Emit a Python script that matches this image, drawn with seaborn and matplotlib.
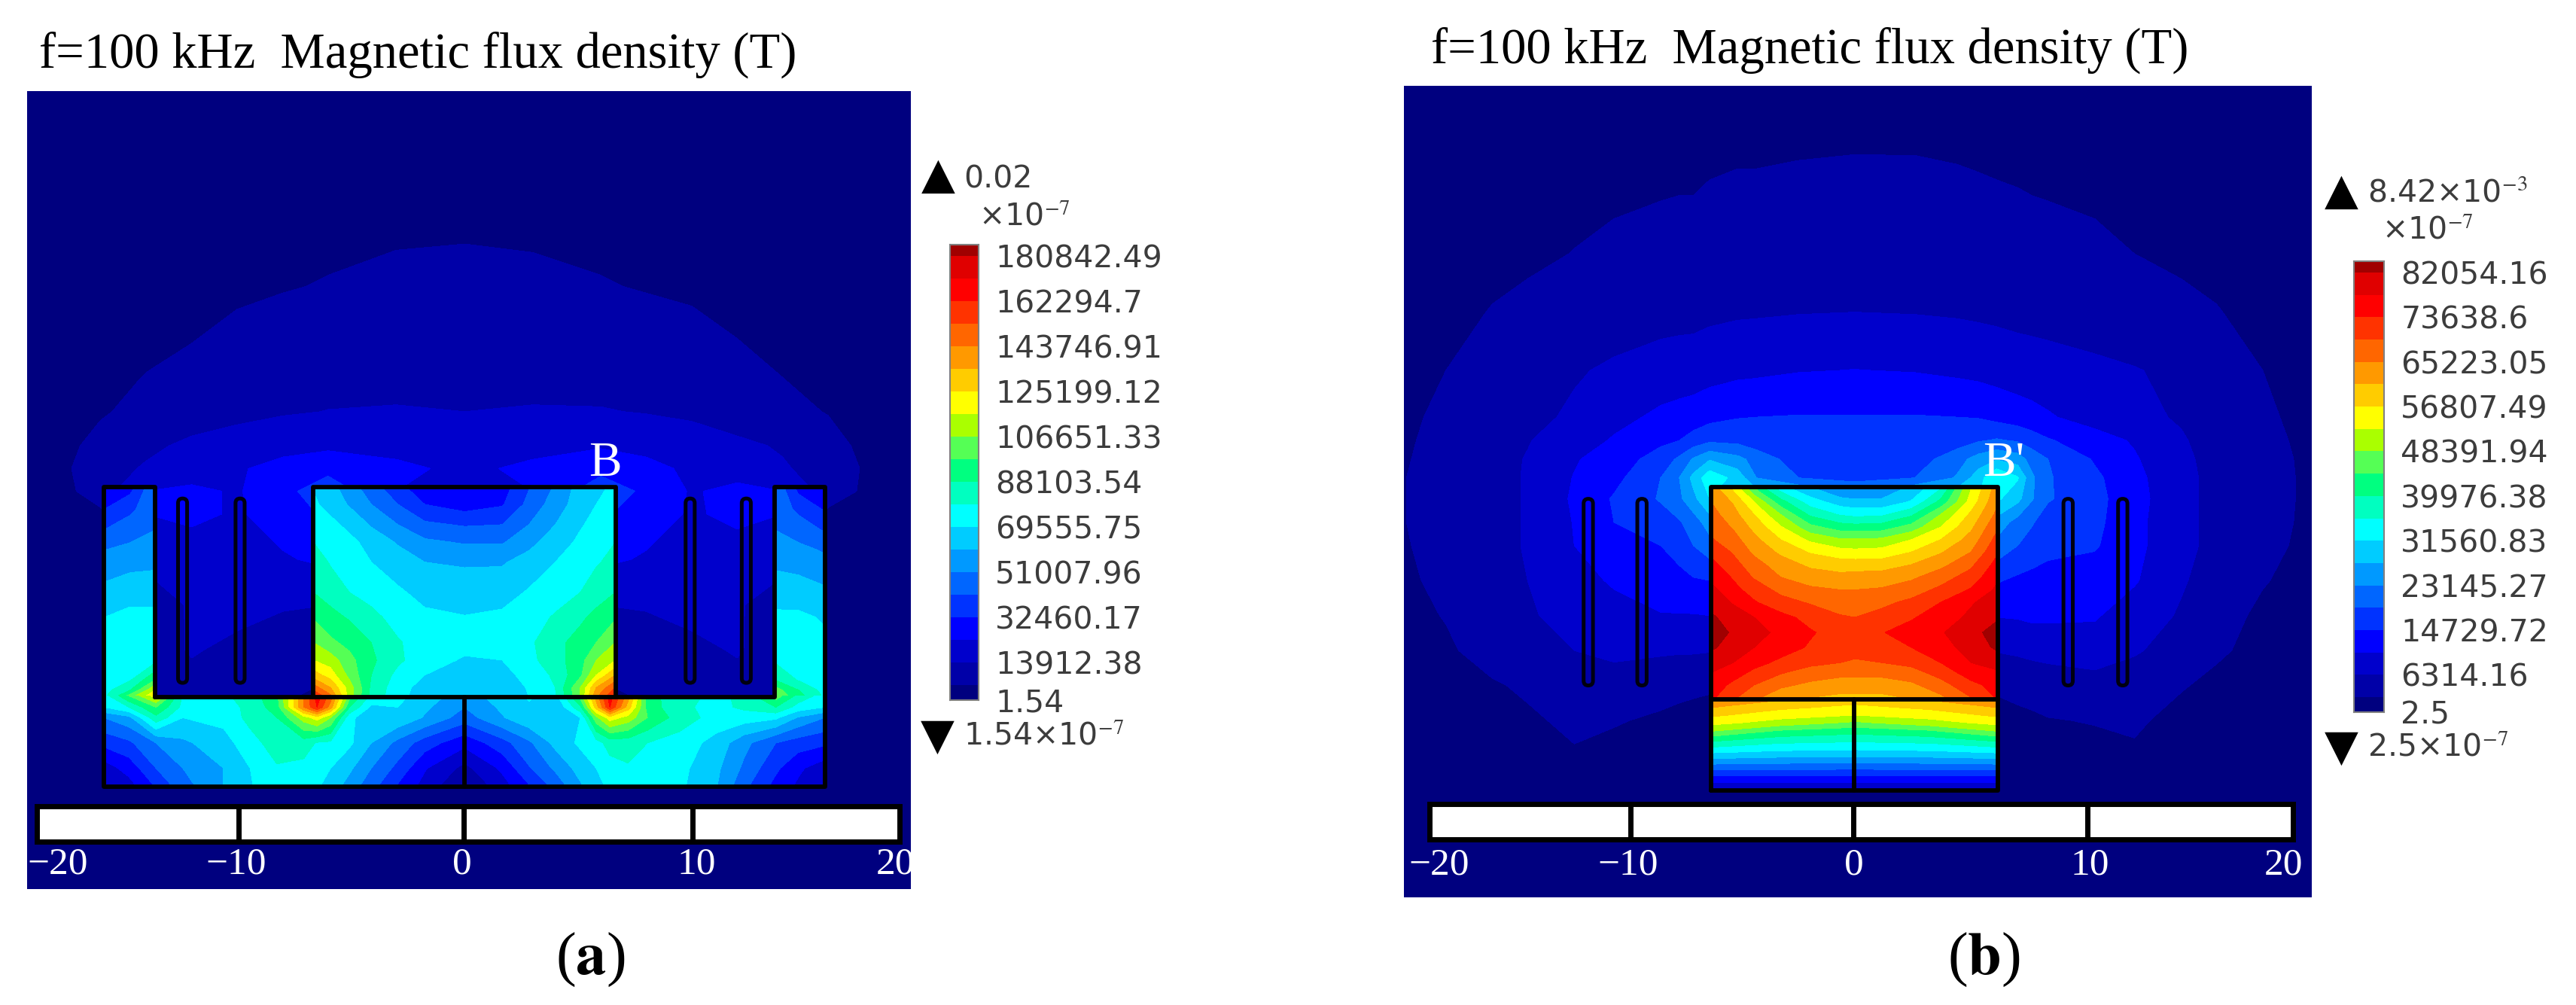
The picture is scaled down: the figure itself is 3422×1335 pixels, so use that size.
import numpy as np
import matplotlib
matplotlib.use('Agg')
import matplotlib.pyplot as plt
from matplotlib.colors import ListedColormap
from matplotlib.patches import Rectangle, FancyBboxPatch
import seaborn as sns

W, H = 3423, 1335

# цвета полос шкалы, снизу вверх; значение k попадает в полосу [k, k+1)
band_colors = ['#00007f', '#0000a8', '#0000cc', '#0000ff', '#0033ff', '#0066ff', '#0099ff',
               '#00ccff', '#00ffff', '#00ffc0', '#00ff80', '#55ff55', '#aaff00', '#ffff00',
               '#ffcc00', '#ff9900', '#ff6600', '#ff3300', '#ff0000', '#e00000', '#a00000']
band_levels = [-1, 1, 2, 3, 4, 5, 6, 7, 8, 9, 10, 11, 12, 13, 14, 15, 16, 17, 18, 19, 20, 21]

ticks_a = ['180842.49', '162294.7', '143746.91', '125199.12', '106651.33', '88103.54',
           '69555.75', '51007.96', '32460.17', '13912.38', '1.54']
ticks_b = ['82054.16', '73638.6', '65223.05', '56807.49', '48391.94', '39976.38',
           '31560.83', '23145.27', '14729.72', '6314.16', '2.5']

# (a) поле вокруг сердечника
bg_a_x = [-19.3, -17.5, -16, -14, -12, -10, -8, -6, -3, 0, 3, 6, 8, 10, 12, 14, 16, 17.5, 19.7]
bg_a_y = [30.7, 24, 22, 20, 18, 16.5, 15, 14, 13, 12, 10, 8, 6, 4, 2, 0, -4.6]
bg_a = [
    [.4, .4, .4, .4, .4, .4, .4, .4, .4, .4, .4, .4, .4, .4, .4, .4, .4, .4, .4],
    [.4, .4, .4, .5, .6, .7, .8, .85, .95, .98, .95, .85, .8, .7, .6, .5, .4, .4, .4],
    [.4, .4, .5, .6, .7, .8, .95, 1.05, 1.2, 1.3, 1.15, 1.05, .95, .85, .7, .6, .5, .4, .4],
    [.4, .4, .5, .6, .9, 1.2, 1.3, 1.4, 1.5, 1.6, 1.5, 1.4, 1.3, 1.2, .95, .7, .5, .4, .4],
    [.4, .5, .6, 1.05, 1.3, 1.5, 1.6, 1.7, 1.8, 1.85, 1.8, 1.7, 1.6, 1.5, 1.3, 1.0, .7, .5, .4],
    [.4, .5, .9, 1.3, 1.5, 1.75, 1.9, 2.02, 2.05, 2.0, 2.05, 2.05, 1.95, 1.8, 1.5, 1.3, .95, .5, .4],
    [.5, .8, 1.3, 1.8, 2.2, 2.4, 2.7, 2.8, 2.7, 2.6, 2.7, 2.9, 2.7, 2.5, 2.2, 1.9, 1.4, .8, .5],
    [.5, .9, 1.6, 2.1, 2.5, 2.9, 3.3, 3.7, 3.2, 2.8, 3.2, 3.7, 3.3, 2.8, 2.5, 2.1, 1.6, .95, .5],
    [.5, .8, 1.5, 3.0, 3.2, 2.9, 3.7, 4.6, 3, 3, 3, 4.6, 3.8, 2.9, 3.3, 3.0, 1.5, .9, .5],
    [.4, .6, .8, 3.0, 3.2, 2.9, 3.4, 4.2, 3, 3, 3, 4.2, 3.4, 2.9, 3.2, 3.0, .8, .6, .4],
    [.4, .4, .6, 2.2, 2.5, 2.5, 2.9, 3.2, 3, 3, 3, 3.2, 2.9, 2.5, 2.6, 2.3, .6, .4, .4],
    [.4, .4, .5, 1.5, 2.1, 2.4, 2.1, 2.0, 2, 2, 2, 2.0, 2.1, 2.4, 2.1, 1.5, .5, .4, .4],
    [.4, .4, .5, 1.4, 2.1, 1.7, 1.4, 1.4, 1.4, 1.4, 1.4, 1.4, 1.4, 1.7, 2.1, 1.4, .5, .4, .4],
    [.4, .4, .4, 1.3, 1.5, 1.2, 1.1, .8, .8, .8, .8, .8, 1.1, 1.2, 1.5, 1.3, .4, .4, .4],
    [.4, .4, .4, .4, .4, .4, .4, .4, .4, .4, .4, .4, .4, .4, .4, .4, .4, .4, .4],
    [.4, .4, .4, .4, .4, .4, .4, .4, .4, .4, .4, .4, .4, .4, .4, .4, .4, .4, .4],
    [.4, .4, .4, .4, .4, .4, .4, .4, .4, .4, .4, .4, .4, .4, .4, .4, .4, .4, .4],
]

# (a) ноги сердечника
leg_y = [13.2, 12.2, 11.3, 10.4, 9, 7.45, 5.45, 4.7, 4.25, 3.9]
leg_l_x = [-15.85, -14.7, -13.6]
leg_l = [[3.2, 3.6, 5.9], [4.0, 4.8, 5.7], [5.0, 5.5, 6.0], [6.0, 6.3, 6.5], [7.0, 7.3, 7.3],
         [8.0, 8.3, 8.3], [8.4, 8.7, 9.0], [8.5, 8.9, 11], [8.6, 10, 13], [8.9, 12, 14]]
leg_r_x = [13.65, 14.7, 15.85]
leg_r = [[5.9, 3.6, 3.2], [5.6, 4.8, 3.9], [6.0, 5.5, 4.9], [6.5, 6.3, 5.9], [7.3, 7.2, 6.9],
         [8.2, 8.2, 7.9], [9, 8.7, 8.4], [10, 8.9, 8.5], [11.5, 10, 8.6], [12, 10.5, 8.9]]

# (a) основание
base_a_x = [-15.85, -14.76, -13.57, -12.39, -10.6, -9.43, -8.25, -7.07, -6.48, -5.89, -5.06, -4.1,
            -2.93, -1.75, 0, 1.66, 2.84, 4, 5.1, 5.8, 6.4, 7.2, 8.05, 9.46, 11.1, 12.3, 13.7, 14.67, 15.85]
base_a_y = [4.0, 3.5, 3.04, 1.93, .82, -.05]
base_a = [
    [8.5, 11, 13.5, 8.9, 8.8, 9.5, 10.8, 16, 18.5, 16.5, 11.5, 8.7, 8.3, 7.5, 6.5,
     7.5, 8.1, 7.6, 11.5, 15.5, 18.5, 15.5, 10.5, 9.3, 8.8, 9.2, 11.5, 9.7, 8.5],
    [8, 9, 11, 8.7, 8.5, 9.3, 10.5, 16, 18, 15.5, 10, 7.8, 8, 7.2, 6,
     7.2, 7.9, 7, 9.8, 14.5, 18, 14.5, 10.6, 9.2, 8.7, 9.2, 10, 8.6, 8],
    [6, 6.7, 9.7, 8, 8.3, 9.3, 10, 12.5, 13.5, 12, 8.3, 7.2, 7.8, 6.9, 5.5,
     6.9, 7.8, 7.3, 8, 11.7, 13.5, 12.6, 11, 9.5, 8.6, 8.5, 8.2, 6.9, 6],
    [4.3, 4.8, 6, 6.8, 7.6, 8.6, 9.5, 9.5, 8.9, 8.8, 8.2, 7, 5.7, 4.5, 3.3,
     4.6, 5.8, 7.3, 8.2, 8.6, 9.4, 9.4, 9, 8.6, 7.6, 6.3, 5, 4.5, 4.2],
    [2.5, 3.4, 5, 6, 7, 8, 8.9, 8.7, 8.3, 8, 7.2, 6, 4.7, 3.1, 1.7,
     3.2, 4.9, 6.2, 7.4, 8, 8.6, 8.9, 8.8, 8.3, 7.2, 5.8, 4.2, 3.2, 2.4],
    [1.9, 2.5, 4, 5.5, 7, 7.9, 8.7, 8.5, 8.1, 7.5, 6.5, 5.3, 3.8, 2.6, .8,
     2.5, 3.8, 5.2, 6.8, 7.6, 8.2, 8.6, 8.7, 8.2, 7, 5.2, 3.6, 2.8, 1.8],
]

# (a) центральный блок
block_a_x = [-6.65, -5.89, -5.06, -4.1, -2.93, -1.75, 0, 1.66, 2.84, 4, 5.1, 5.8, 6.65]
block_a_y = [13.25, 12.42, 11.53, 10.76, 9.88, 8.55, 7.45, 6.35, 5.57, 4.91, 4.36, 3.9]
block_a = [
    [7.9, 7.3, 6.4, 5.4, 4.2, 3.4, 3.2, 3.5, 4.9, 6.1, 7.4, 7.7, 8.2],
    [8.2, 7.6, 6.9, 6, 5, 4, 3.5, 3.9, 5.3, 6.5, 7.5, 8, 8.5],
    [8.7, 8.3, 7.7, 6.9, 6, 5.2, 4.9, 5, 6, 7, 7.9, 8.3, 8.7],
    [9, 8.6, 8.3, 7.6, 6.9, 6.2, 5.9, 5.9, 6.7, 7.5, 8.2, 8.6, 9],
    [9.6, 8.9, 8.5, 8, 7.5, 7, 6.9, 6.9, 7.4, 8, 8.6, 8.9, 9.3],
    [10, 9.6, 9, 8.6, 8.15, 7.7, 7.45, 7.6, 8.1, 8.6, 9, 9.5, 10],
    [10.9, 10.3, 9.9, 9.3, 8.6, 8.2, 8.05, 8.2, 8.6, 9.1, 9.8, 10.3, 10.9],
    [12, 11.2, 10.7, 10, 9.1, 8.5, 8.3, 8.4, 8.8, 9.7, 10.4, 11, 12],
    [13, 12.5, 11.3, 10.2, 9.2, 8.4, 7.9, 8, 8.7, 9.6, 10.6, 12, 13],
    [14.5, 13.5, 11.7, 10, 8.7, 8, 7.5, 7.7, 8.3, 9.2, 10.8, 13, 15],
    [16.5, 15, 12.5, 9.8, 8.4, 7.6, 7.2, 7.3, 8.1, 9, 12, 15, 17],
    [18.5, 16.5, 12.5, 9.7, 8.3, 7.5, 7.1, 7.2, 8, 8.9, 12, 16, 18.5],
]

# (b) поле вокруг сердечника
bg_b_x = [-19.4, -17.5, -15.5, -14, -12, -10.3, -8.3, -7.5, -6.9, -6.2, -5, -4.2, -2.4, 0,
          2.6, 4.4, 5.3, 6.1, 7, 7.6, 8.3, 10.3, 12, 14, 15.5, 17.5, 19.7]
bg_b_y = [30.3, 27.5, 25.5, 23, 20.5, 18, 16, 15, 14.2, 13.4, 12.5, 11.5, 10.5, 9, 7.5, 6, 4.5, 3, 1.5, -1, -4.7]
bg_b = [
    [.3, .3, .3, .3, .3, .3, .3, .3, .3, .3, .3, .3, .3, .3, .3, .3, .3, .3, .3, .3, .3, .3, .3, .3, .3, .3, .3],
    [.3, .3, .3, .4, .5, .6, .7, .7, .75, .8, .85, .85, .9, .95, .95, .9, .85, .8, .75, .7, .7, .6, .5, .4, .3, .3, .3],
    [.3, .4, .5, .6, .8, .9, .97, 1.0, 1.0, 1.1, 1.2, 1.2, 1.3, 1.35, 1.3, 1.2, 1.15, 1.1, 1.05, 1.0, .97, .9, .8, .6, .5, .4, .3],
    [.3, .5, .7, .85, 1.02, 1.15, 1.28, 1.3, 1.35, 1.4, 1.45, 1.45, 1.5, 1.55, 1.5, 1.45, 1.42, 1.4, 1.35, 1.3, 1.28, 1.15, 1.0, .85, .7, .5, .3],
    [.4, .7, 1.05, 1.2, 1.35, 1.5, 1.65, 1.7, 1.7, 1.8, 1.88, 1.9, 1.96, 2.0, 1.96, 1.9, 1.85, 1.8, 1.72, 1.68, 1.62, 1.5, 1.35, 1.2, 1.05, .7, .4],
    [.5, 1.0, 1.2, 1.45, 1.9, 2.15, 2.4, 2.45, 2.5, 2.6, 2.75, 2.8, 2.95, 3.02, 2.95, 2.8, 2.7, 2.6, 2.5, 2.45, 2.4, 2.2, 2.05, 1.8, 1.4, 1.0, .5],
    [.8, 1.2, 1.5, 1.75, 2.15, 2.7, 3.2, 3.35, 3.45, 3.7, 3.95, 4.0, 4.05, 4.05, 4.05, 4.0, 3.95, 3.7, 3.45, 3.3, 3.1, 2.6, 2.25, 1.9, 1.5, 1.15, .7],
    [.85, 1.3, 1.6, 1.95, 2.5, 3.1, 3.8, 4.0, 4.4, 4.8, 4.7, 4.4, 4.15, 4.1, 4.15, 4.5, 4.9, 5.1, 4.9, 4.5, 4.1, 3.4, 2.9, 2.1, 1.6, 1.25, .75],
    [.9, 1.35, 1.7, 2.05, 2.9, 3.5, 4.4, 5.2, 6.1, 6.9, 6.3, 5.6, 4.5, 4.2, 4.5, 5.6, 6.4, 6.9, 6.5, 5.6, 5, 3.9, 3.1, 2.2, 1.7, 1.3, .8],
    [.95, 1.4, 1.8, 2.05, 3.05, 3.7, 5.0, 6.0, 7.3, 8.7, 7.6, 6.0, 5.0, 4.3, 5.0, 6.1, 7.5, 9, 8.1, 6.2, 5.1, 4.2, 3.3, 2.2, 1.8, 1.35, .8],
    [.95, 1.4, 1.8, 2.05, 3.15, 4.1, 5.1, 5.8, 6.7, 8.0, 8, 8, 8, 8, 8, 8, 8, 8.2, 7.3, 6.1, 5.1, 4.3, 3.4, 2.2, 1.8, 1.35, .8],
    [.95, 1.4, 1.8, 2.05, 3.05, 4.0, 4.5, 4.9, 5.5, 6.5, 6, 6, 6, 6, 6, 6, 6, 6.6, 5.6, 5.1, 4.5, 4.25, 3.3, 2.2, 1.8, 1.3, .8],
    [.9, 1.35, 1.8, 2.05, 3.0, 3.5, 4.0, 4.4, 5.0, 5.6, 5, 5, 5, 5, 5, 5, 5, 5.7, 5.0, 4.6, 4.3, 4.1, 3.3, 2.2, 1.8, 1.25, .75],
    [.8, 1.25, 1.75, 2.0, 2.7, 3.1, 3.5, 3.7, 3.9, 4.0, 4, 4, 4, 4, 4, 4, 4, 4.1, 3.8, 3.7, 3.6, 3.5, 3.1, 2.1, 1.6, 1.05, .7],
    [.7, 1.05, 1.6, 1.9, 2.3, 2.7, 2.95, 2.95, 2.95, 3.0, 3, 3, 3, 3, 3, 3, 3, 3.05, 3.1, 3.2, 3.2, 3.1, 2.5, 1.9, 1.3, .85, .6],
    [.6, .85, 1.4, 1.7, 2.0, 2.2, 2.15, 2.1, 2.1, 2.05, 2, 2, 2, 2, 2, 2, 2, 2.05, 2.15, 2.25, 2.3, 2.5, 2.1, 1.6, 1.1, .8, .5],
    [.5, .7, .9, 1.15, 1.7, 1.6, 1.25, 1.2, 1.15, 1.1, 1, 1, 1, 1, 1, 1, 1, 1.1, 1.25, 1.35, 1.5, 1.6, 1.5, 1.05, .85, .65, .5],
    [.4, .5, .6, .85, 1.2, 1.05, .9, .8, .75, .7, .7, .7, .7, .7, .7, .7, .7, .75, .8, .85, .95, 1.05, 1.1, .8, .6, .5, .4],
    [.3, .4, .5, .6, .9, .8, .6, .5, .5, .5, .5, .5, .5, .5, .5, .5, .5, .5, .5, .5, .6, .7, .9, .7, .5, .4, .3],
    [.3, .3, .3, .3, .3, .3, .3, .3, .3, .3, .3, .3, .3, .3, .3, .3, .3, .3, .3, .3, .3, .3, .3, .3, .3, .3, .3],
    [.3, .3, .3, .3, .3, .3, .3, .3, .3, .3, .3, .3, .3, .3, .3, .3, .3, .3, .3, .3, .3, .3, .3, .3, .3, .3, .3],
]

# (b) центральный блок
block_b_x = [-6.15, -5.2, -4.3, -3.16, -1.9, -.6, .03, 1.17, 2.45, 3.7, 5, 6.15]
block_b_y = [13.05, 12.37, 11.83, 11.29, 10.75, 10.22, 9.68, 9.14, 8.6, 8.06, 7.42, 6.77, 6.13, 5.48, 5.05, 4.52, 3.85]
block_b = [
    [15.4, 13.6, 10.7, 8.2, 6.9, 5.7, 5.6, 5.8, 7.1, 8.7, 12.9, 15.5],
    [16, 14.9, 13, 10.4, 8.5, 7.5, 7.3, 7.3, 8.1, 10.3, 13.4, 15.9],
    [16.4, 15.4, 14, 12, 9.8, 8.9, 8.7, 8.8, 9.8, 12, 14.2, 16.3],
    [16.7, 15.9, 14.7, 13.1, 11.3, 10.5, 10.4, 10.5, 11.4, 13, 14.8, 16.9],
    [17.1, 16.4, 15.3, 14.0, 12.8, 12.1, 12.1, 12.2, 13, 14, 15.4, 17.4],
    [17.8, 16.9, 15.8, 14.8, 13.9, 13.4, 13.3, 13.4, 14, 14.9, 16, 17.9],
    [18.3, 17.4, 16.4, 15.5, 14.8, 14.5, 14.5, 14.5, 15, 15.7, 16.8, 18.4],
    [18.8, 17.9, 16.9, 16.0, 15.5, 15.3, 15.4, 15.5, 15.8, 16.6, 17.4, 18.9],
    [19.3, 18.3, 17.6, 16.7, 16.2, 16, 16, 16.1, 16.6, 17.2, 18.1, 19.2],
    [19.7, 18.9, 18.1, 17.4, 16.9, 16.5, 16.4, 16.8, 17.2, 18, 18.9, 19.5],
    [20.15, 19.6, 19.0, 18.3, 17.7, 17.1, 17.0, 17.3, 17.9, 18.5, 19.2, 19.9],
    [20.4, 19.9, 19.3, 18.8, 18.1, 17.6, 17.4, 17.95, 18.4, 18.9, 19.7, 20.4],
    [20.15, 19.6, 19, 18.4, 17.9, 17.4, 17.3, 17.5, 18, 18.6, 19.4, 20.2],
    [19.5, 19.0, 18.3, 17.8, 17.3, 17, 16.9, 17, 17.3, 18, 19, 19.3],
    [19, 18.4, 17.8, 17.1, 16.5, 16.3, 16.3, 16.3, 16.6, 17.4, 18.5, 18.9],
    [18.5, 17.8, 17, 16.2, 15.8, 15.5, 15.5, 15.5, 15.8, 16.6, 17.7, 18.4],
    [18.1, 17, 16, 15.2, 14.8, 14.6, 14.6, 14.6, 14.9, 15.6, 16.8, 18],
]

# (b) основание
base_b_x = [-6.15, -3.16, .03, 3.2, 6.15]
base_b_y = [3.87, 3.55, 3.23, 2.9, 2.58, 2.15, 1.61, 1.08, .54, 0]
base_b = [
    [15.8, 15, 14.4, 15, 15.8],
    [15, 14.2, 13.7, 14.2, 15],
    [14.2, 13.4, 13, 13.4, 14.2],
    [13.3, 12.6, 11.8, 12.6, 13.3],
    [12.2, 11, 10.5, 11, 12.2],
    [10.2, 9.4, 9.2, 9.4, 10.2],
    [8, 7.7, 7.6, 7.7, 8],
    [5.8, 5.7, 5.6, 5.7, 5.8],
    [3.7, 3.7, 3.7, 3.7, 3.7],
    [1.9, 1.9, 1.9, 1.9, 1.9],
]

# геометрия сердечника и катушек
core_a_x = [-13.6, -13.6, -15.85, -15.85, 15.85, 15.85, 13.65, 13.65, -13.6]
core_a_y = [3.94, 13.18, 13.18, 0, 0, 13.18, 13.18, 3.94, 3.94]
block_a_line_x = [-6.65, -6.65, 6.65, 6.65]
block_a_line_y = [3.94, 13.18, 13.18, 3.94]
core_b_x = [-6.15, -6.15, 6.15, 6.15, -6.15]
core_b_y = [0, 13, 13, 0, 0]
coils_a = [-12.4, -9.87, 9.93, 12.4]
coils_b = [-11.4, -9.1, 9.16, 11.5]
ruler_a = {'x0': -18.8, 'x1': 19.14, 'y0': -2.42, 'y1': -.86, 'ticks': [-9.94, -.03, 10.03]}
ruler_b = {'x0': -18.2, 'x1': 18.8, 'y0': -2.1, 'y1': -.58, 'ticks': [-9.6, -.03, 10.0]}
ruler_labels = ['\u221220', '\u221210', '0', '10', '20']
label_a_x = [-17.9, -10.03, -.1, 10.2, 18.96]
label_b_x = [-17.8, -9.7, 0, 10.1, 18.4]

sns.set_style('white')
plt.rcParams['font.family'] = ['Liberation Serif', 'DejaVu Serif']
plt.rcParams['mathtext.fontset'] = 'stix'

fig = plt.figure(figsize=(W / 100, H / 100), dpi=100)
LW = 4.2


def px_axes(x0, y0, x1, y1):
    return fig.add_axes([x0 / W, 1 - y1 / H, (x1 - x0) / W, (y1 - y0) / H])


def ftext(x, y, s, **kw):
    fig.text(x / W, 1 - y / H, s, **kw)


def field(ax, x, y, z):
    ax.contourf(x, y, np.array(z), levels=band_levels, colors=band_colors)


def ruler(ax, r, labels_x, label_y):
    ax.add_patch(Rectangle((r['x0'], r['y0']), r['x1'] - r['x0'], r['y1'] - r['y0'],
                           fc='white', ec='black', lw=5, zorder=5))
    for t in r['ticks']:
        ax.plot([t, t], [r['y0'], r['y1']], color='black', lw=5, solid_capstyle='butt', zorder=6)
    for lx, s in zip(labels_x, ruler_labels):
        ax.text(lx, label_y, s, color='white', fontsize=37, ha='center', va='center', zorder=7)


def coils(ax, xs, y0, y1):
    for c in xs:
        ax.add_patch(FancyBboxPatch((c - .2, y0), .4, y1 - y0, boxstyle='round,pad=0,rounding_size=.2',
                                    fc='none', ec='#000010', lw=LW - .6, zorder=4))


def scale_bar(x0, y0, x1, y1, labels):
    ax = px_axes(x0, y0, x1, y1)
    # полосы шкалы сверху вниз, верхняя и нижняя короче
    strip = np.repeat(np.arange(20, -1, -1), [3] + [6] * 19 + [4]).reshape(-1, 1)
    sns.heatmap(strip, ax=ax, cmap=ListedColormap(band_colors), vmin=-.5, vmax=20.5, cbar=False,
                xticklabels=False)
    pos = [3 + 12 * i for i in range(10)] + [121]
    ax.yaxis.tick_right()
    ax.set_yticks(pos)
    ax.set_yticklabels(labels, rotation=0, family='DejaVu Sans', fontsize=29.5, color='#3c3c3c')
    ax.tick_params(axis='y', length=0, pad=16)
    ax.set_yticks([3 + 6 * i for i in range(20)], minor=True)
    ax.tick_params(axis='y', which='minor', direction='in', left=True, right=True, length=2.5,
                   width=2, color='#103010')
    for s in ax.spines.values():
        s.set_visible(True)
        s.set_color('#808080')
        s.set_linewidth(1.5)
    return ax


# панель (a)
ax_a = px_axes(36, 121, 1210, 1181)
ax_a.set_facecolor('#00007f')
field(ax_a, bg_a_x, bg_a_y, bg_a)
field(ax_a, leg_l_x, leg_y, leg_l)
field(ax_a, leg_r_x, leg_y, leg_r)
field(ax_a, base_a_x, base_a_y, base_a)
field(ax_a, block_a_x, block_a_y, block_a)
ax_a.plot(core_a_x, core_a_y, color='black', lw=LW, solid_joinstyle='round', zorder=4)
ax_a.plot(block_a_line_x, block_a_line_y, color='black', lw=LW, solid_joinstyle='round', zorder=4)
ax_a.plot([0, 0], [0, 3.94], color='black', lw=LW, zorder=4)
coils(ax_a, coils_a, 4.57, 12.68)
ruler(ax_a, ruler_a, label_a_x, -3.4)
ax_a.text(6.2, 14.2, 'B', color='white', fontsize=47, ha='center', va='center', zorder=7)
ax_a.set_xlim(-19.24, 19.64)
ax_a.set_ylim(-4.5, 30.6)
ax_a.axis('off')

# панель (b)
ax_b = px_axes(1865, 114, 3071, 1192)
ax_b.set_facecolor('#00007f')
field(ax_b, bg_b_x, bg_b_y, bg_b)
field(ax_b, block_b_x, block_b_y, block_b)
field(ax_b, base_b_x, base_b_y, base_b)
ax_b.plot(core_b_x, core_b_y, color='black', lw=LW, solid_joinstyle='round', zorder=4)
ax_b.plot([-6.15, 6.15], [3.9, 3.9], color='black', lw=LW, zorder=4)
ax_b.plot([0, 0], [0, 3.9], color='black', lw=LW, zorder=4)
coils(ax_b, coils_b, 4.5, 12.5)
ruler(ax_b, ruler_b, label_b_x, -3.2)
ax_b.text(6.4, 14, "B'", color='white', fontsize=47, ha='center', va='center', zorder=7)
ax_b.set_xlim(-19.3, 19.6)
ax_b.set_ylim(-4.58, 30.2)
ax_b.axis('off')

# шкалы
scale_bar(1262, 325, 1300, 930, ticks_a)
scale_bar(3127, 347, 3167, 946, ticks_b)

grey = dict(family='DejaVu Sans', fontsize=29.5, color='#3c3c3c', va='center', ha='left')
tri = dict(family='DejaVu Sans', fontsize=42, color='black', va='center', ha='center')
ftext(1246, 233, '\u25b2', **tri)
ftext(1280, 238, '0.02', **grey)
ftext(1300, 288, '\u00d710$^{-7}$', **grey)
ftext(1245, 978, '\u25bc', **tri)
ftext(1280, 978, '1.54\u00d710$^{-7}$', **grey)
ftext(3110, 254, '\u25b2', **tri)
ftext(3145, 257, '8.42\u00d710$^{-3}$', **grey)
ftext(3164, 306, '\u00d710$^{-7}$', **grey)
ftext(3110, 993, '\u25bc', **tri)
ftext(3145, 993, '2.5\u00d710$^{-7}$', **grey)

title = 'f=100 kHz  Magnetic flux density (T)'
ftext(52, 90, title, fontsize=48, color='black', va='baseline', ha='left')
ftext(1901, 84, title, fontsize=48, color='black', va='baseline', ha='left')
ftext(784, 1275, r'($\mathbf{a}$)', fontsize=58, color='black', va='center', ha='center')
ftext(2635, 1275, r'($\mathbf{b}$)', fontsize=58, color='black', va='center', ha='center')

fig.savefig('out.png', dpi=100, facecolor='white')
